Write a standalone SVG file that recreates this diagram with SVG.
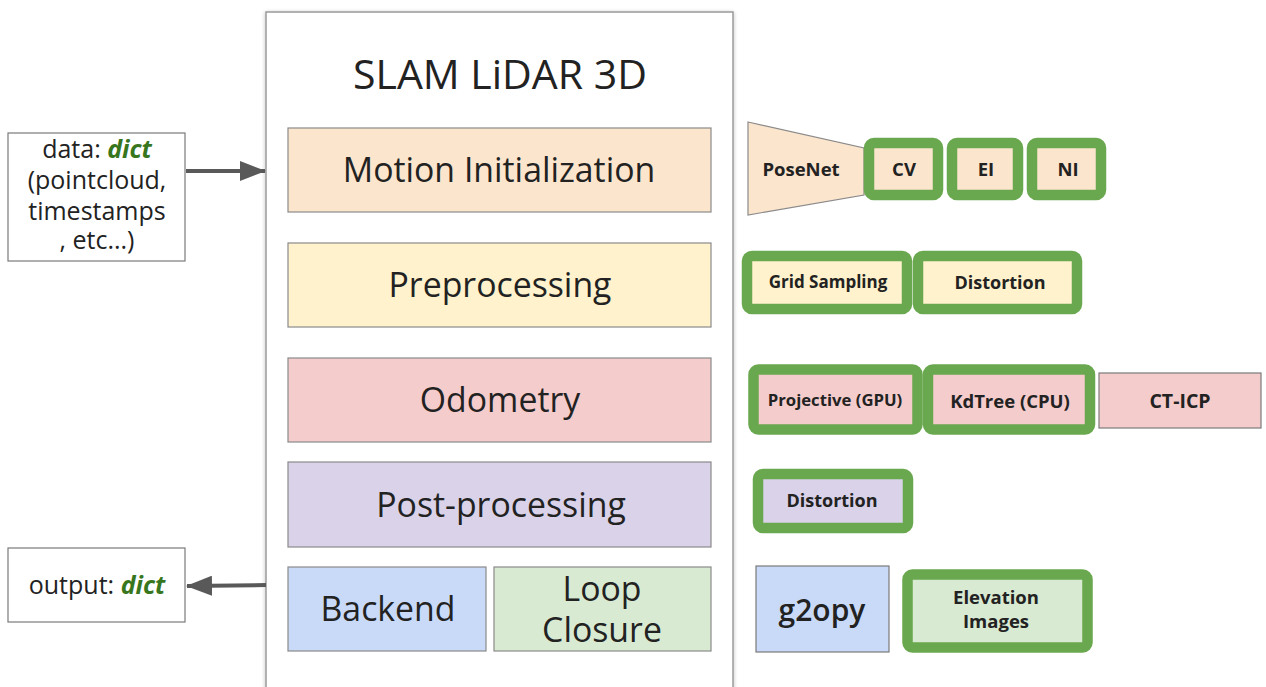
<svg xmlns="http://www.w3.org/2000/svg" width="1266" height="687" viewBox="0 0 1266 687">
  <defs>
    <marker id="arrow" viewBox="0 0 26 20" refX="25" refY="10" markerWidth="26" markerHeight="20" orient="auto-start-reverse" markerUnits="userSpaceOnUse">
      <path d="M0,0 L26,10 L0,20 z" fill="#595959"/>
    </marker>
    <filter id="shadow" x="-5%" y="-5%" width="110%" height="110%">
      <feGaussianBlur in="SourceAlpha" stdDeviation="2"/>
      <feOffset dx="0" dy="1"/>
      <feComponentTransfer><feFuncA type="linear" slope="0.25"/></feComponentTransfer>
      <feMerge><feMergeNode/><feMergeNode in="SourceGraphic"/></feMerge>
    </filter>
  </defs>
  <style>
    text { font-family: "Open Sans", "Noto Sans", "Liberation Sans", sans-serif; fill: #222; text-anchor: middle; }
    .big { font-size: 33.8px; }
    .side { font-size: 25px; }
    .lbl { font-weight: bold; }
    .stage { stroke: #8a8a8a; stroke-width: 1.2; }
    .plain { stroke: #7a7a7a; stroke-width: 1.2; }
    .green { stroke: #6aa84f; stroke-width: 10.5; }
    .dict { fill: #38761d; font-weight: bold; font-style: italic; }
  </style>
  <rect width="1266" height="687" fill="#ffffff"/>

  <!-- outer pipeline container -->
  <g id="container">
    <rect x="266" y="12" width="467" height="690" fill="#ffffff" stroke="#9a9a9a" stroke-width="1.5" filter="url(#shadow)"/>
    <text x="500" y="89" font-size="41">SLAM LiDAR 3D</text>
  </g>

  <!-- pipeline stages -->
  <g id="motion-init">
    <rect class="stage" x="288" y="128" width="423" height="84" fill="#fce5cd"/>
    <text class="big" x="499" y="182">Motion Initialization</text>
  </g>
  <g id="preprocessing">
    <rect class="stage" x="288" y="243" width="423" height="84" fill="#fff2cc"/>
    <text class="big" x="500" y="297">Preprocessing</text>
  </g>
  <g id="odometry">
    <rect class="stage" x="288" y="358" width="423" height="84" fill="#f4cccc"/>
    <text class="big" x="500" y="412">Odometry</text>
  </g>
  <g id="post-processing">
    <rect class="stage" x="288" y="462" width="423" height="85" fill="#d9d2e9"/>
    <text class="big" x="501" y="517">Post-processing</text>
  </g>
  <g id="backend">
    <rect class="stage" x="288" y="567" width="198" height="84" fill="#c9daf8"/>
    <text class="big" x="388" y="621">Backend</text>
  </g>
  <g id="loop-closure">
    <rect class="stage" x="494" y="567" width="217" height="84" fill="#d9ead3"/>
    <text class="big" x="602" y="601">Loop</text>
    <text class="big" x="602" y="642">Closure</text>
  </g>

  <!-- input / output -->
  <g id="input">
    <rect class="plain" x="8" y="133" width="177" height="128" fill="#ffffff"/>
    <text class="side" x="97" y="158">data: <tspan class="dict">dict</tspan></text>
    <text class="side" x="97" y="189">(pointcloud,</text>
    <text class="side" x="97" y="220">timestamps</text>
    <text class="side" x="97" y="249">, etc...)</text>
  </g>
  <g id="output">
    <rect class="plain" x="8" y="548" width="177" height="74" fill="#ffffff"/>
    <text class="side" x="97" y="594">output: <tspan class="dict">dict</tspan></text>
  </g>

  <!-- connectors -->
  <g id="connectors" stroke="#595959" stroke-width="4" fill="none">
    <line x1="186" y1="171" x2="265" y2="171" marker-end="url(#arrow)"/>
    <line x1="266" y1="585" x2="187" y2="586" marker-end="url(#arrow)"/>
  </g>

  <!-- motion initialization options -->
  <g id="posenet">
    <polygon points="748,122 864,148 864,195 748,215" fill="#fce5cd" stroke="#8a8a8a" stroke-width="1.2"/>
    <text class="lbl" x="801" y="176" font-size="18.5">PoseNet</text>
  </g>
  <g id="cv">
    <rect class="green" x="869" y="143" width="69" height="52" rx="5" fill="#fce5cd"/>
    <text class="lbl" x="904" y="176" font-size="18.5">CV</text>
  </g>
  <g id="ei">
    <rect class="green" x="952" y="143" width="66" height="52" rx="5" fill="#fce5cd"/>
    <text class="lbl" x="986" y="176" font-size="18.5">EI</text>
  </g>
  <g id="ni">
    <rect class="green" x="1032" y="143" width="69" height="52" rx="5" fill="#fce5cd"/>
    <text class="lbl" x="1068" y="176" font-size="18.5">NI</text>
  </g>

  <!-- preprocessing options -->
  <g id="grid-sampling">
    <rect class="green" x="747" y="256" width="160" height="53" rx="5" fill="#fff2cc"/>
    <text class="lbl" x="828" y="288" font-size="17">Grid Sampling</text>
  </g>
  <g id="distortion-pre">
    <rect class="green" x="918" y="256" width="159" height="53" rx="5" fill="#fff2cc"/>
    <text class="lbl" x="1000" y="289" font-size="18">Distortion</text>
  </g>

  <!-- odometry options -->
  <g id="projective">
    <rect class="green" x="753.5" y="369.5" width="164" height="60" rx="5" fill="#f4cccc"/>
    <text class="lbl" x="835" y="406" font-size="16.7">Projective (GPU)</text>
  </g>
  <g id="kdtree">
    <rect class="green" x="928" y="369.5" width="162" height="60" rx="5" fill="#f4cccc"/>
    <text class="lbl" x="1010" y="408" font-size="18.5">KdTree (CPU)</text>
  </g>
  <g id="ct-icp">
    <rect class="plain" x="1099" y="373" width="162" height="55" fill="#f4cccc"/>
    <text class="lbl" x="1180" y="408" font-size="19.5">CT-ICP</text>
  </g>

  <!-- post-processing options -->
  <g id="distortion-post">
    <rect class="green" x="758" y="474" width="150" height="54" rx="5" fill="#d9d2e9"/>
    <text class="lbl" x="832" y="507" font-size="18">Distortion</text>
  </g>

  <!-- backend / loop closure options -->
  <g id="g2opy">
    <rect class="plain" x="756" y="566" width="133" height="86" fill="#c9daf8"/>
    <text x="822" y="621" font-size="30" font-weight="600">g2opy</text>
  </g>
  <g id="elevation-images">
    <rect class="green" x="907.5" y="574.5" width="180" height="73" rx="5" fill="#d9ead3"/>
    <text class="lbl" x="996" y="604" font-size="18.5">Elevation</text>
    <text class="lbl" x="996" y="628" font-size="18.5">Images</text>
  </g>
</svg>
